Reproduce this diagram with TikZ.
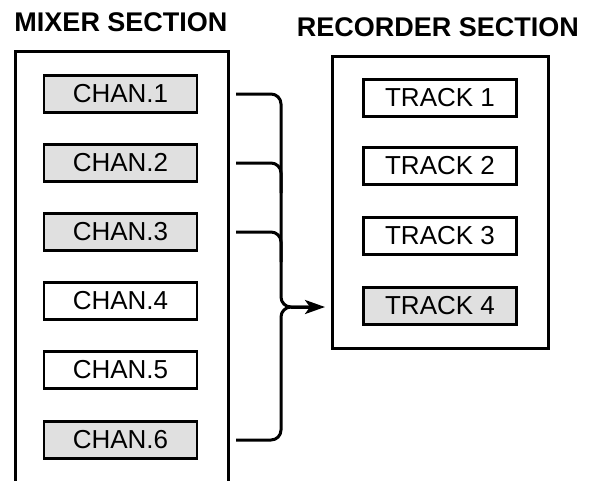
\documentclass[tikz,border=0pt]{standalone}
\usepackage{fontspec}
\setmainfont{Liberation Sans}
\usetikzlibrary{arrows.meta}
\begin{document}
\begin{tikzpicture}[x=1pt,y=-1pt,
  titletext/.style={font=\fontsize{27}{30}\selectfont\bfseries, inner sep=0pt},
  outerbox/.style={draw, line width=3pt, inner sep=0pt},
  chanbox/.style={draw, line width=2.4pt, minimum width=153pt, minimum height=37pt, inner sep=0pt, font=\fontsize{26}{28}\selectfont},
  shaded/.style={fill=black!12},
  conn/.style={line width=3pt, rounded corners=10pt},
]
\useasboundingbox (0,0) rectangle (591,480);
% titles
\node[titletext] (tmix) at (121,22) {MIXER SECTION};
\node[titletext] (trec) at (438,27) {RECORDER SECTION};
% outer boxes
\node[outerbox, minimum width=213pt, minimum height=440pt, anchor=north west] (mixer) at (14,50) {};
\node[outerbox, minimum width=216pt, minimum height=292pt, anchor=north west] (rec) at (331,55) {};
% channels
\node[chanbox, shaded] (c1) at (120.5,94) {CHAN.1};
\node[chanbox, shaded] (c2) at (120.5,163) {CHAN.2};
\node[chanbox, shaded] (c3) at (120.5,232) {CHAN.3};
\node[chanbox] (c4) at (120.5,301) {CHAN.4};
\node[chanbox] (c5) at (120.5,370) {CHAN.5};
\node[chanbox, shaded] (c6) at (120.5,440) {CHAN.6};
% tracks
\node[chanbox] (t1) at (440,98) {TRACK 1};
\node[chanbox] (t2) at (440,166) {TRACK 2};
\node[chanbox] (t3) at (440,236) {TRACK 3};
\node[chanbox, shaded] (t4) at (440,306) {TRACK 4};
% connectors
\coordinate (j) at (281,307);
\coordinate (tip) at (325,307);
\draw[conn] ([xshift=38pt]c1.east) -| (j) -- ([xshift=-12pt]tip);
\draw[conn] ([xshift=38pt]c6.east) -| (j) -- ([xshift=-12pt]tip);
\draw[conn] ([xshift=38pt]c2.east) -| ([yshift=-30pt]j |- c2.east);
\draw[conn] ([xshift=38pt]c3.east) -| ([yshift=-30pt]j |- c3.east);
\draw[line width=3pt, -{Stealth[length=20pt,width=14pt,inset=5pt]}] ([xshift=10pt]j) -- (tip);
\end{tikzpicture}
\end{document}
